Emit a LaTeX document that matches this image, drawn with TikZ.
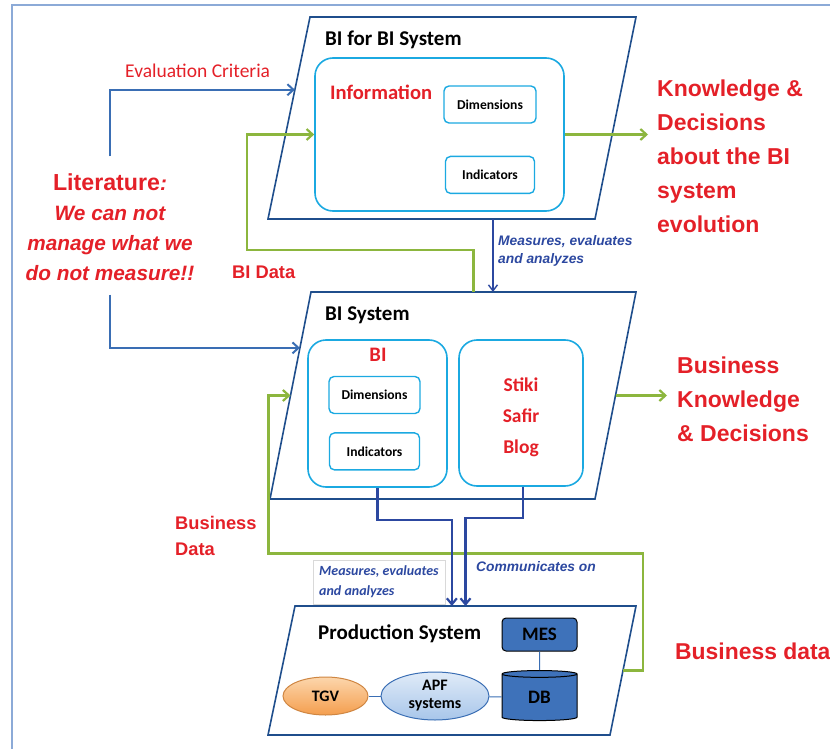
\documentclass[tikz,border=0pt]{standalone}
\usepackage{fontspec}
\setmainfont{Carlito}
\newfontfamily\arialfont{Liberation Sans}
\usetikzlibrary{arrows.meta,positioning,calc,shapes.geometric}

\definecolor{bired}{RGB}{228,32,40}
\definecolor{sysblue}{RGB}{31,78,140}
\definecolor{incyan}{RGB}{27,169,225}
\definecolor{litgreen}{RGB}{140,182,62}
\definecolor{arrblue}{RGB}{58,110,180}
\definecolor{txtblue}{RGB}{44,72,160}
\definecolor{dbblue}{RGB}{62,114,186}
\definecolor{framecol}{RGB}{140,170,215}
\definecolor{tgvlight}{RGB}{252,214,172}
\definecolor{tgvdark}{RGB}{244,158,78}
\definecolor{apflight}{RGB}{224,235,248}
\definecolor{apfdark}{RGB}{168,198,234}

\begin{document}
\begin{tikzpicture}[
  x=1pt, y=-1pt,
  sys/.style={draw=sysblue, line width=1.6pt, line join=miter},
  inbox/.style={draw=incyan, line width=1.6pt, rounded corners=18pt, inner sep=0pt},
  smallbox/.style={draw=incyan, line width=1.4pt, rounded corners=5pt,
    minimum height=37pt, inner sep=0pt, font=\fontsize{13.6}{15}\selectfont\bfseries},
  systitle/.style={anchor=west, inner sep=0pt, font=\fontsize{21}{24}\selectfont\bfseries},
  redlbl/.style={text=bired, inner sep=0pt, font=\fontsize{20.6}{23}\selectfont\bfseries},
  bigred/.style={anchor=west, align=left, inner sep=0pt, text=bired,
    font=\arialfont\bfseries\fontsize{23}{34}\selectfont},
  midred/.style={align=left, inner sep=0pt, text=bired,
    font=\arialfont\bfseries\fontsize{18.3}{26}\selectfont},
  bluelbl/.style={anchor=west, align=left, inner sep=0pt, text=txtblue,
    font=\arialfont\bfseries\itshape\fontsize{13.8}{18.5}\selectfont},
  prodbox/.style={draw=black, fill=dbblue, line width=1pt, inner sep=0pt,
    font=\fontsize{19}{21}\selectfont\bfseries},
  larr/.style={-{Straight Barb[length=6pt,width=11pt]}, draw=arrblue, line width=2pt},
  garr/.style={-{Straight Barb[length=6pt,width=11pt]}, draw=litgreen, line width=2.2pt},
  marr/.style={-{Straight Barb[length=6pt,width=9pt]}, draw=txtblue, line width=1.4pt},
  carr/.style={-{Straight Barb[length=6pt,width=10pt]}, draw=txtblue, line width=2.2pt}
]
\useasboundingbox (0,0) rectangle (830,749);
\draw[framecol, line width=1.2pt] (12,749) -- (12,5) -- (830,5);

% BI for BI System
\draw[sys] (310,17) coordinate (bibTL) -- (636,17) coordinate (bibTR)
  -- (595,219) coordinate (bibBR) -- (268,219) coordinate (bibBL) -- cycle;
\node[systitle] (bibtitle) at (325,40) {BI for BI System};
\node[inbox, minimum width=249pt, minimum height=153pt] (info) at (439.5,134.5) {};
\node[redlbl, anchor=west] (infolbl) at (330,92) {Information};
\node[smallbox, minimum width=92pt] (dim1) at (490,104.5) {Dimensions};
\node[smallbox, minimum width=89pt, below=32pt of dim1] (ind1) {Indicators};

\node[bigred] (kdtext) at (657,156) {Knowledge \&\\Decisions\\about the BI\\system\\evolution};
\draw[garr] (info.east) -- ([xshift=-9pt]info.east -| kdtext.west);

% literature
\node[align=center, inner sep=0pt, text=bired,
  font=\arialfont\bfseries\itshape\fontsize{20.8}{30}\selectfont] (lit) at (110,227)
  {{\upshape\fontsize{23.2}{30}\selectfont Literature}:\\We can not\\manage what we\\do not measure!!};
\node[text=bired, anchor=west, inner sep=0pt, font=\fontsize{19.5}{21}\selectfont] (evalc) at (125,71) {Evaluation Criteria};
\draw[larr] ([yshift=17pt]lit.north) |- ($(bibTL)!0.36!(bibBL)$);

% BI System
\draw[sys] (311,292) coordinate (bisTL) -- (636,292) coordinate (bisTR)
  -- (595,499) coordinate (bisBR) -- (270,499) coordinate (bisBL) -- cycle;
\node[systitle] (bistitle) at (325,315) {BI System};
\node[inbox, minimum width=139pt, minimum height=147pt] (bi) at (377.5,413.5) {};
\node[redlbl] (bilbl) at (378,355) {BI};
\node[smallbox, minimum width=91pt] (dim2) at (374.5,395) {Dimensions};
\node[smallbox, minimum width=90pt, below=18pt of dim2] (ind2) {Indicators};
\node[inbox, minimum width=124pt, minimum height=146pt] (stiki) at (521,413) {};
\node[align=center, text=bired, inner sep=0pt,
  font=\fontsize{19.5}{31}\selectfont\bfseries] (stikilbl) at (521,417) {Stiki\\Safir\\Blog};

\draw[larr] ([yshift=-14pt]lit.south) |- ($(bisTL)!0.27!(bisBL)$);

% BI data loop
\draw[garr] ($(bisTL)!0.5!(bisTR)$) -- ++(0,-42) -| ([xshift=-67pt]info.west) -- (info.west);
\node[midred, anchor=west] (bidata) at (232,272) {BI Data};

\coordinate (mstart) at ($(bibBL)!0.688!(bibBR)$);
\draw[marr] (mstart) -- (mstart |- bisTL);
\node[bluelbl] (meas1) at (498,251) {Measures, evaluates\\and analyzes};

\node[bigred] (bktext) at (677,399) {Business\\Knowledge\\\& Decisions};
\coordinate (bisR) at ($(bisTR)!0.5!(bisBR)$);
\draw[garr] (bisR) -- ([xshift=-10pt]bisR -| bktext.west);

% Production System
\draw[sys] (295,606) coordinate (prodTL) -- (636,606) coordinate (prodTR)
  -- (610,735) coordinate (prodBR) -- (268,735) coordinate (prodBL) -- cycle;
\node[systitle] (prodtitle) at (318,634) {Production System};
\node[prodbox, rounded corners=4pt, minimum width=75pt, minimum height=33pt] (mes) at (539.5,634.5) {MES};
\node[prodbox, cylinder, shape border rotate=90, aspect=0.3, minimum width=75pt,
  minimum height=50pt] (db) at (539.5,697.5) {\raisebox{-8pt}{DB}};
\node[ellipse, draw=tgvdark!85!black, top color=tgvlight, bottom color=tgvdark, line width=1pt,
  minimum width=85pt, minimum height=38pt, inner sep=0pt, font=\fontsize{16}{18}\selectfont\bfseries] (tgv) at (325.5,696) {TGV};
\node[ellipse, draw=arrblue, top color=apflight, bottom color=apfdark, line width=1pt,
  minimum width=108pt, minimum height=48pt, inner sep=0pt, align=center,
  font=\fontsize{16}{18}\selectfont\bfseries] (apf) at (435,696) {APF\\systems};
\draw[arrblue, line width=1pt] (tgv) -- (apf);
\draw[arrblue, line width=1pt] (apf) -- (db);
\draw[arrblue, line width=1pt] (mes) -- (db);

% business data loop
\coordinate (prodR) at ($(prodTR)!0.5!(prodBR)$);
\coordinate (bisL) at ($(bisTL)!0.5!(bisBL)$);
\draw[garr] (prodR) -- ++(20,0) -- ++(0,-117) -| ([xshift=-22pt]bisL) -- (bisL);
\node[midred, anchor=west] (busdata) at (175,536) {Business\\Data};
\node[bigred, font=\arialfont\bfseries\fontsize{22.9}{26}\selectfont] (busdata2) at (675,651) {Business data};

% communication lines
\draw[carr] (bi.south) -- ++(0,32) -| ($(prodTL)!0.46!(prodTR)$);
\draw[carr] ([xshift=2pt]stiki.south) -- ++(0,31) -| ($(prodTL)!0.50!(prodTR)$);
\node[bluelbl, draw=black!15, inner sep=6pt, font=\bfseries\itshape\fontsize{14}{20}\selectfont] (meas2) at (313,582) {Measures, evaluates\\and analyzes};
\node[bluelbl] (commu) at (476,567) {Communicates on};
\end{tikzpicture}
\end{document}
